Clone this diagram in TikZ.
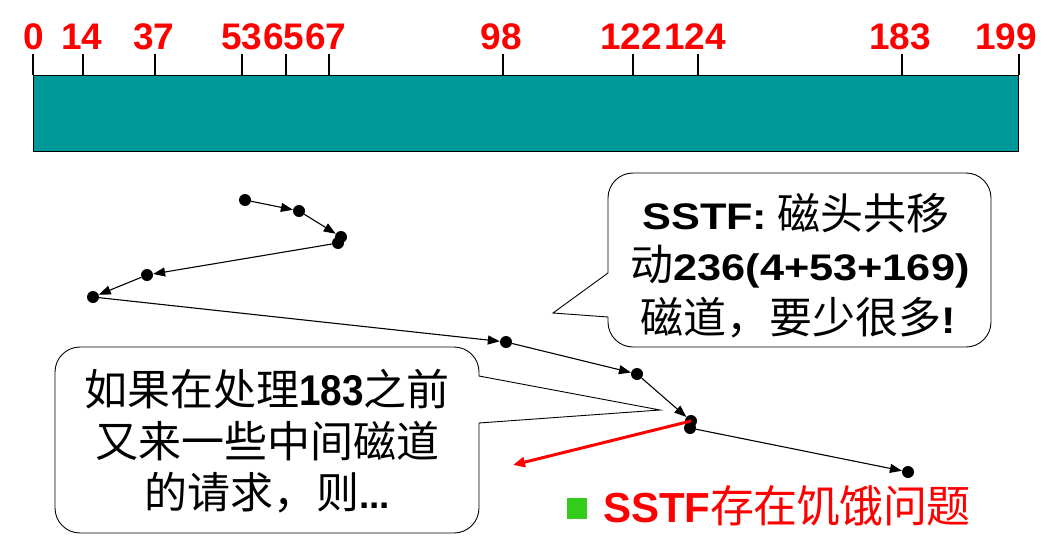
\documentclass[tikz,border=0pt]{standalone}
\usepackage{fontspec}
\setmainfont{Liberation Sans}
\newfontfamily\cjk{Noto Sans CJK SC}
\newfontfamily\cjkr[LetterSpace=-2]{Noto Sans CJK SC}
\newfontfamily\wideb[FakeStretch=1.17]{Liberation Sans Bold}
\newfontfamily\narb[FakeStretch=0.9]{Liberation Sans Bold}
\usetikzlibrary{arrows.meta}
\definecolor{barteal}{RGB}{0,153,153}
\definecolor{sqgreen}{RGB}{51,204,26}
\begin{document}
\begin{tikzpicture}[x=1pt,y=-1pt,
  dot/.style={circle,fill=black,inner sep=0pt,minimum size=12pt},
  arr/.style={line width=1.1pt,-{Triangle[length=12pt,width=9pt]}},
  redarr/.style={draw=red,line width=3pt,-{Triangle[length=12pt,width=10pt]}},
  tickmark/.style={line width=2.5pt},
  ticklab/.style={text=red,font=\fontsize{37}{40}\selectfont\bfseries,anchor=base,inner sep=0pt},
  callout/.style={draw=black,line width=0.9pt,fill=white},
  ctext/.style={font=\fontsize{37}{44}\selectfont,anchor=base,inner sep=0pt}]
\useasboundingbox (0,0) rectangle (1047,554);
\fill[white] (0,0) rectangle (1047,554);

% bar
\draw[fill=barteal,line width=1pt] (33,75) rectangle (1018,151);
\foreach \px/\lx/\lab in {33/34/0,83/82/14,155/154/37,242/242/53,286/284/65,329/326/67,503/501/98,633/631/122,698/695/124,902/900/183,1019/1006/199}{
  \draw[tickmark] (\px,54) -- (\px,75);
  \node[ticklab] (lab\lab) at (\lx,49) {\lab};
}

% callouts
\draw[callout] (553,313) -- (608,273) [rounded corners=25pt] -- (608,173) -- (991,173) -- (991,347) -- (608,347) [sharp corners] -- (608,317) -- cycle;
\draw[callout] (660,410) -- (479,423) [rounded corners=25pt] -- (479,533) -- (55,533) -- (55,347) -- (479,347) [sharp corners] -- (479,376) -- cycle;

\newcommand{\ckt}[1]{{\fontsize{43}{48}\selectfont\cjk #1}}
\newcommand{\wbt}[1]{{\wideb #1}}
\node[ctext] (c1a) at (796,229) {\wbt{SSTF:} \ckt{磁头共移}};
\node[ctext] (c1b) at (800,280) {\ckt{动}\wbt{236(4+53+169)}};
\node[ctext] (c1c) at (798,333) {\ckt{磁道，要少很多}\wbt{!}};

\node[ctext] (c2a) at (267,405) {\ckt{如果在处理}{\fontsize{43}{48}\selectfont\narb 183}\ckt{之前}};
\node[ctext] (c2b) at (267,457) {\ckt{又来一些中间磁道}};
\node[ctext] (c2c) at (267,508) {\ckt{的请求，则}{\bfseries ...}};

% track dots
\node[dot] (d1) at (245,200) {};
\node[dot] (d2) at (299,211) {};
\node[dot] (d3) at (341,237) {};
\node[dot] (d3b) at (338,243) {};
\node[dot] (d4) at (147,275) {};
\node[dot] (d5) at (93,297) {};
\node[dot] (d6) at (506,342) {};
\node[dot] (d7) at (637,374) {};
\node[dot] (d8) at (691,421) {};
\node[dot] (d8b) at (690,428) {};
\node[dot] (d9) at (908,472) {};
\coordinate (rend) at (513,465);

\draw[arr] (d1) -- (d2);
\draw[arr] (d2) -- (d3);
\draw[arr] (d3b) -- (d4);
\draw[arr] (d4) -- (d5);
\draw[arr] (d5) -- (d6);
\draw[arr] (d6) -- (d7);
\draw[arr] (d7) -- (d8);
\draw[arr] (d8b) -- (d9);
\draw[redarr] (d8.center) -- (rend);

% bottom text
\fill[sqgreen] (567,498) rectangle (587,519);
\node[anchor=base west,inner sep=0pt,text=red,font=\fontsize{42}{46}\selectfont] (bt) at (603,522) {{\bfseries SSTF}{\fontsize{44}{48}\selectfont\cjkr 存在饥饿问题}};
\end{tikzpicture}
\end{document}
